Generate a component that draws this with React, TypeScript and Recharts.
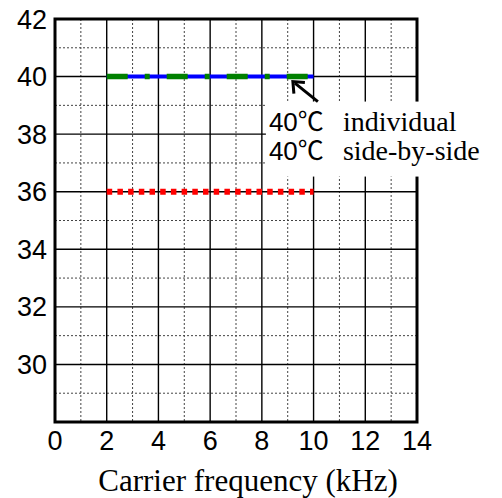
import React from 'react';
import { LineChart, Line, XAxis, YAxis, CartesianGrid, ReferenceArea, ReferenceDot } from 'recharts';

const frequencies = [2, 10];
const individual40 = [40, 40];
const sideBySide40 = [40, 40];
const lowerLimit = [36, 36];

const xTicks = [0, 2, 4, 6, 8, 10, 12, 14];
const yTicks = [28, 30, 32, 34, 36, 38, 40, 42];
const xMajor = [2, 4, 6, 8, 10, 12];
const xMinor = [1, 3, 5, 7, 9, 11, 13];
const yMajor = [30, 32, 34, 36, 38, 40];
const yMinor = [29, 31, 33, 35, 37, 39, 41];

const legendLines = ['individual', 'side-by-side'];
const legendTemp = '40℃';
const annotationAt = { x: 9.2, y: 40 };

const SERIF = 'Liberation Serif, Times New Roman, serif';
const SANS = 'Liberation Sans, Arial, sans-serif';

const data = frequencies.map((f, i) => ({
  f,
  individual: individual40[i],
  side: sideBySide40[i],
  lower: lowerLimit[i],
}));

const Annotation = (props: any) => {
  const { cx, cy } = props;
  if (cx == null || cy == null) return null;
  const tipX = cx;
  const tipY = cy + 5;
  const tailX = cx + 25;
  const tailY = cy + 25;
  return (
    <g>
      <rect x={cx - 27} y={cy + 25} width={225} height={75} fill="#ffffff" />
      <line x1={tipX + 2} y1={tipY + 1.6} x2={tailX} y2={tailY} stroke="#000" strokeWidth={3} />
      <polyline
        points={`${tipX + 1},${tipY + 12} ${tipX},${tipY} ${tipX + 12},${tipY + 1}`}
        fill="none"
        stroke="#000"
        strokeWidth={3}
      />
      {legendLines.map((label, i) => (
        <g key={label}>
          <text
            x={cx - 24}
            y={cy + 54 + i * 29}
            fontSize={26}
            fill="#000"
            fontFamily="Liberation Sans, Noto Sans CJK JP, sans-serif"
          >
            {legendTemp}
          </text>
          <text x={cx + 50} y={cy + 54 + i * 29} fontSize={28} fill="#000" fontFamily={SERIF}>
            {label}
          </text>
        </g>
      ))}
    </g>
  );
};

export default function App() {
  return (
    <div style={{ position: 'absolute', left: 0, top: 0, width: 502, height: 498, background: '#fff' }}>
      <LineChart
        width={502}
        height={498}
        data={data}
        margin={{ top: 19, right: 85, left: 0, bottom: 0 }}
      >
        <CartesianGrid
          verticalValues={xMinor}
          horizontalValues={yMinor}
          stroke="#444"
          strokeWidth={1}
          strokeDasharray="2 2"
        />
        <CartesianGrid
          verticalValues={xMajor}
          horizontalValues={yMajor}
          stroke="#000"
          strokeWidth={1.4}
        />
        <XAxis
          dataKey="f"
          type="number"
          domain={[0, 14]}
          ticks={xTicks}
          interval={0}
          axisLine={false}
          tickLine={false}
          tickSize={0}
          tickMargin={9}
          height={76}
          tick={{ fontSize: 27, fill: '#000', fontFamily: SANS }}
          label={{
            value: 'Carrier frequency (kHz)',
            position: 'insideBottom',
            offset: 7,
            dx: 12,
            fontSize: 31,
            fill: '#000',
            fontFamily: SERIF,
          }}
        />
        <YAxis
          type="number"
          domain={[28, 42]}
          ticks={yTicks}
          interval={0}
          axisLine={false}
          tickLine={false}
          tickSize={0}
          tickMargin={8}
          width={55}
          tickFormatter={(v: number) => (v === 28 ? '' : String(v))}
          tick={{ fontSize: 27, fill: '#000', fontFamily: SANS }}
        />
        <Line
          dataKey="lower"
          stroke="#ff0000"
          strokeWidth={6}
          strokeDasharray="5.5 5.2"
          dot={false}
          isAnimationActive={false}
        />
        <Line
          dataKey="side"
          stroke="#0000ff"
          strokeWidth={4}
          dot={false}
          isAnimationActive={false}
        />
        <Line
          dataKey="individual"
          stroke="#008000"
          strokeWidth={5.5}
          strokeDasharray="21 17 5 17"
          dot={false}
          isAnimationActive={false}
        />
        <ReferenceArea x1={0} x2={14} y1={28} y2={42} fill="none" stroke="#000" strokeWidth={3} ifOverflow="visible" />
        <ReferenceDot x={annotationAt.x} y={annotationAt.y} ifOverflow="visible" shape={<Annotation />} />
      </LineChart>
    </div>
  );
}
